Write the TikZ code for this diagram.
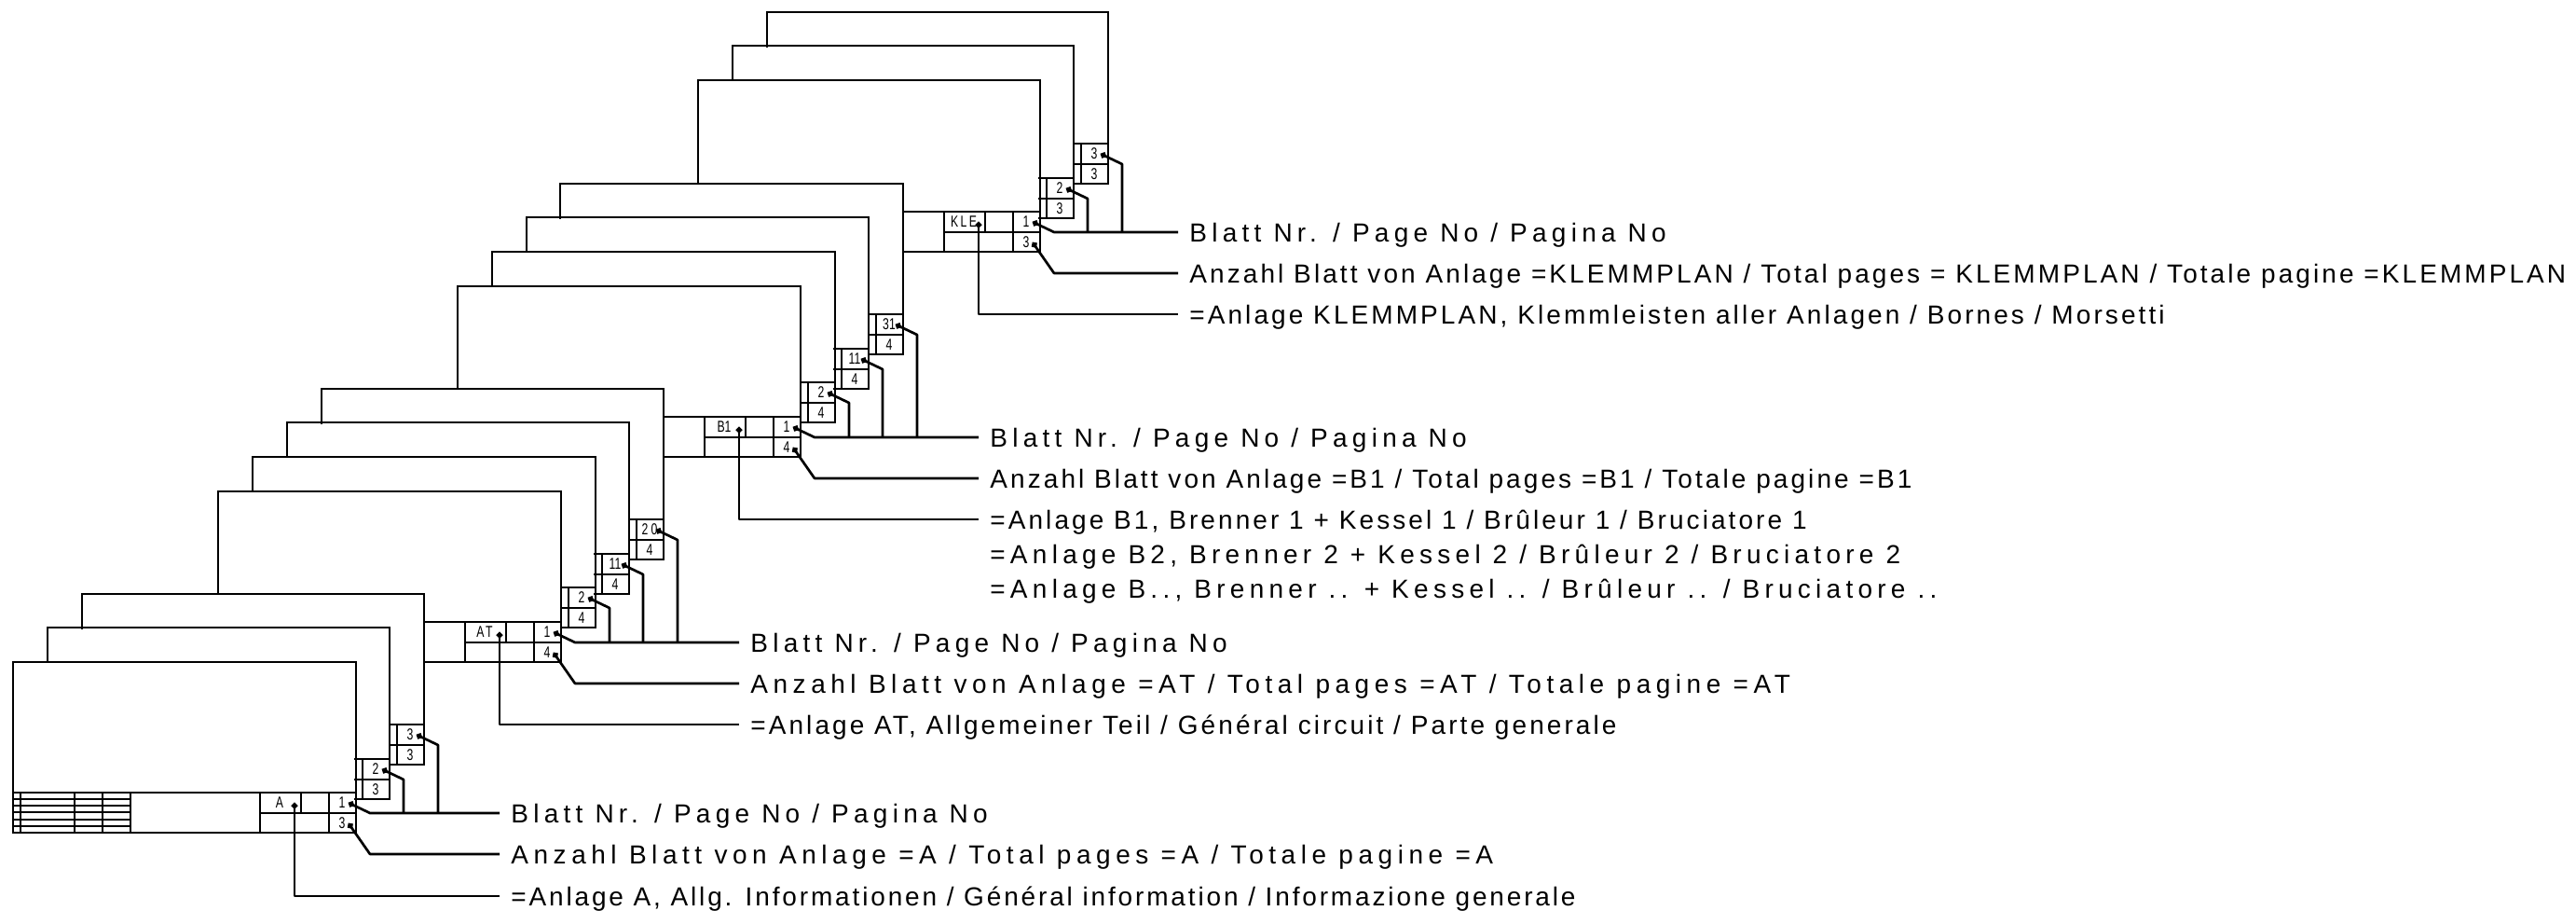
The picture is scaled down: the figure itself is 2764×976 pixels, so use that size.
\documentclass[tikz,border=0pt]{standalone}
\usepackage{fontspec}
\usepackage{tikz}
\usetikzlibrary{
  arrows.meta
}
\newfontfamily\labelfont[LetterSpace=11]{Liberation Sans}
\newfontfamily\labelwide[LetterSpace=18.8]{Liberation Sans}
\newfontfamily\labelwider[LetterSpace=19.8]{Liberation Sans}
\newfontfamily\labeltight[LetterSpace=10.2]{Liberation Sans}
\newfontfamily\cellfont[FakeStretch=0.72]{Liberation Sans}
\newfontfamily\cellwide[FakeStretch=0.72,LetterSpace=14]{Liberation Sans}
\tikzset{
  sheet/.style={line width=1.35pt, line join=miter, line cap=rect},
  leader/.style={line width=1.35pt, line join=round},
  dotted end/.style={{Circle[length=3.2pt,width=3.2pt]}-},
  cellnum/.style={inner sep=0pt, font=\fontsize{8.5}{10}\selectfont\cellfont},
  celltag/.style={inner sep=0pt, font=\fontsize{8.5}{10}\selectfont\cellfont},
  sheetlabel/.style={anchor=west, inner xsep=6pt, inner ysep=0pt, text height=10pt, text depth=0pt,
    font=\fontsize{14}{16}\selectfont\labelfont}
}
% name, right, bottom, left, top, page, total
\newcommand{\backsheet}[7]{
  \draw[sheet] (#4,#5+37) -- (#4,#5) -- (#2,#5) -- (#2,#3) -- (#2-37,#3);
  \draw[sheet] (#2-37,#3-43) -- (#2,#3-43);
  \draw[sheet] (#2-37,#3-21) -- (#2,#3-21);
  \draw[sheet] (#2-29,#3-43) -- (#2-29,#3);
  \node[cellnum] (#1nr) at (#2-15,#3-32) {#6};
  \node[cellnum] (#1tot) at (#2-15,#3-10) {#7};
  \coordinate (#1dot) at (#2-8,#3-32);
  \coordinate (#1knee) at (#2+15,#3-21);
}
% name, right, bottom, tag, page, total
\newcommand{\titlecells}[6]{
  \draw[sheet] (#2-103,#3-43) -- (#2-103,#3);
  \draw[sheet] (#2-59,#3-43) -- (#2-59,#3-21);
  \draw[sheet] (#2-29,#3-43) -- (#2-29,#3);
  \draw[sheet] (#2-103,#3-21) -- (#2,#3-21);
  \node[celltag] (#1tag) at (#2-82,#3-32) {#4};
  \node[cellnum] (#1nr) at (#2-15,#3-32) {#5};
  \node[cellnum] (#1tot) at (#2-15,#3-10) {#6};
  \coordinate (#1dot) at (#2-8,#3-32);
  \coordinate (#1knee) at (#2+15,#3-21);
  \coordinate (#1totdot) at (#2-8,#3-10);
  \coordinate (#1totknee) at (#2+15,#3+23);
  \coordinate (#1tagdot) at (#2-66,#3-32);
}
\begin{document}
\begin{tikzpicture}[x=0.5pt, y=-0.5pt]
  \useasboundingbox (0,0) rectangle (2764,976);

  % Anlage A
  \draw[sheet] (14,710) rectangle (382,893);
  \draw[sheet] (14,850) -- (382,850);
  \foreach \xpos in {22,80,110,140}
    \draw[sheet] (\xpos,850) -- (\xpos,893);
  \foreach \ypos in {857,864,871,879,886}
    \draw[sheet] (14,\ypos) -- (140,\ypos);
  \titlecells{a}{382}{893}{A}{1}{3}
  \backsheet{ab}{418}{857}{51}{673}{2}{3}
  \backsheet{ac}{455}{820}{88}{637}{3}{3}

  % Anlage AT
  \draw[sheet] (234,637) -- (234,527) -- (602,527) -- (602,710) -- (456,710);
  \draw[sheet] (456,667) -- (602,667);
  \titlecells{at}{602}{710}{\cellwide AT}{1}{4}
  \backsheet{atb}{639}{673}{271}{490}{2}{4}
  \backsheet{atc}{675}{637}{308}{453}{11}{4}
  \backsheet{atd}{712}{600}{345}{417}{2\kern1.5pt 0}{4}

  % Anlage B1
  \draw[sheet] (491,417) -- (491,307) -- (859,307) -- (859,490) -- (712,490);
  \draw[sheet] (712,447) -- (859,447);
  \titlecells{bo}{859}{490}{B1}{1}{4}
  \backsheet{bob}{896}{453}{528}{270}{2}{4}
  \backsheet{boc}{932}{417}{565}{233}{11}{4}
  \backsheet{bod}{969}{380}{601}{197}{31}{4}

  % Anlage KLEMMPLAN
  \draw[sheet] (749,197) -- (749,86) -- (1116,86) -- (1116,270) -- (969,270);
  \draw[sheet] (969,227) -- (1116,227);
  \titlecells{kl}{1116}{270}{\cellwide KLE}{1}{3}
  \backsheet{klb}{1152}{234}{786}{49}{2}{3}
  \backsheet{klc}{1189}{197}{823}{13}{3}{3}

  % labels
  \node[sheetlabel] (apage) at (536,872) {\labelwide Blatt Nr. / Page No / Pagina No};
  \node[sheetlabel] (atotal) at (536,916) {\labelwider Anzahl Blatt von Anlage =A / Total pages =A / Totale pagine =A};
  \node[sheetlabel] (aname) at (536,961) {\labeltight =Anlage A, Allg. Informationen / Général information / Informazione generale};
  \node[sheetlabel] (atpage) at (793,689) {\labelwide Blatt Nr. / Page No / Pagina No};
  \node[sheetlabel] (attotal) at (793,733) {\labelwider Anzahl Blatt von Anlage =AT / Total pages =AT / Totale pagine =AT};
  \node[sheetlabel] (atname) at (793,777) {=Anlage AT, Allgemeiner Teil / Général circuit / Parte generale};
  \node[sheetlabel] (bopage) at (1050,469) {\labelwide Blatt Nr. / Page No / Pagina No};
  \node[sheetlabel] (bototal) at (1050,513) {Anzahl Blatt von Anlage =B1 / Total pages =B1 / Totale pagine =B1};
  \node[sheetlabel] (boname) at (1050,557) {=Anlage B1, Brenner 1 + Kessel 1 / Brûleur 1 / Bruciatore 1};
  \node[sheetlabel] (btname) at (1050,594) {\labelwide =Anlage B2, Brenner 2 + Kessel 2 / Brûleur 2 / Bruciatore 2};
  \node[sheetlabel] (bxname) at (1050,631) {\labelwide =Anlage B.., Brenner .. + Kessel .. / Brûleur .. / Bruciatore ..};
  \node[sheetlabel] (klpage) at (1264,249) {\labelwide Blatt Nr. / Page No / Pagina No};
  \node[sheetlabel] (kltotal) at (1264,293) {Anzahl Blatt von Anlage =KLEMMPLAN / Total pages = KLEMMPLAN / Totale pagine =KLEMMPLAN};
  \node[sheetlabel] (klname) at (1264,337) {=Anlage KLEMMPLAN, Klemmleisten aller Anlagen / Bornes / Morsetti};

  % leaders
  \foreach \grp/\pagelbl/\totlbl/\namelbl in {a/apage/atotal/aname, at/atpage/attotal/atname, bo/bopage/bototal/boname, kl/klpage/kltotal/klname}{
    \draw[leader, dotted end] (\grp dot) -- (\grp knee) -- (\pagelbl.west);
    \draw[leader, dotted end] (\grp totdot) -- (\grp totknee) -- (\totlbl.west);
    \draw[leader, dotted end] (\grp tagdot) |- (\namelbl.west);
  }
  \foreach \grp/\pagelbl in {ab/apage, ac/apage, atb/atpage, atc/atpage, atd/atpage, bob/bopage, boc/bopage, bod/bopage, klb/klpage, klc/klpage}
    \draw[leader, dotted end] (\grp dot) -- (\grp knee) -- (\grp knee |- \pagelbl.west);
\end{tikzpicture}
\end{document}
